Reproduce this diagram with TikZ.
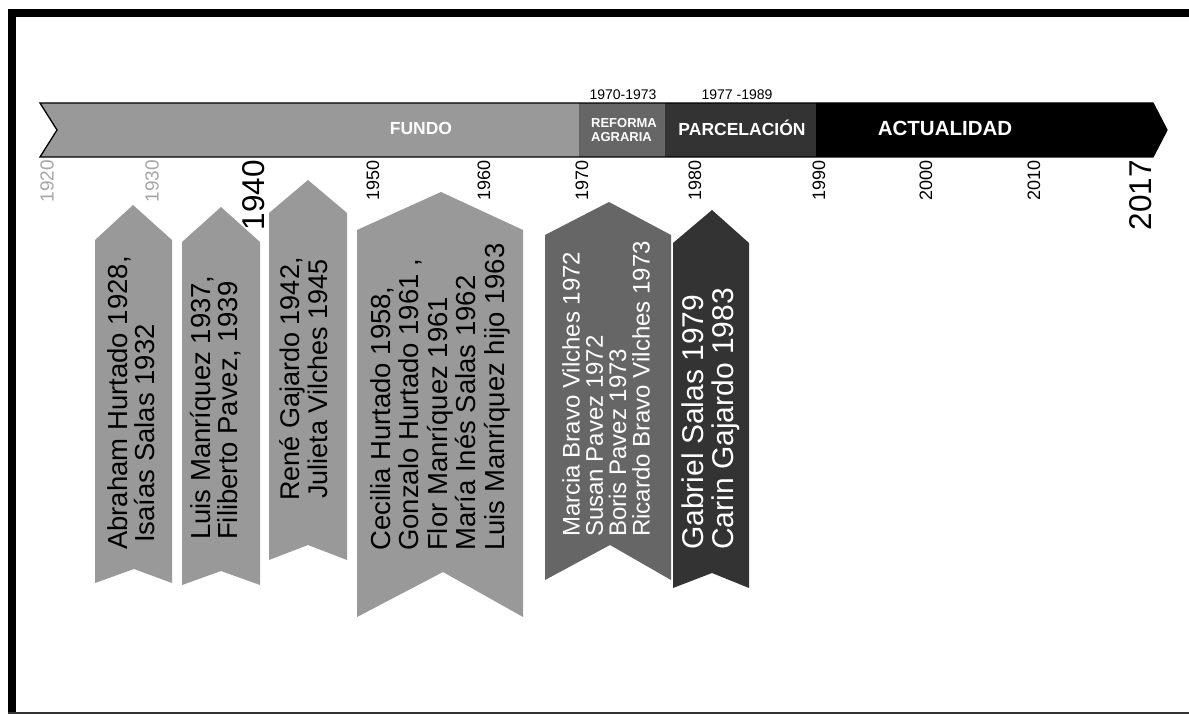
\documentclass[tikz,border=0pt]{standalone}
\usepackage{fontspec}
\setmainfont{Liberation Sans}
\definecolor{cFundo}{HTML}{999999}
\definecolor{cRef}{HTML}{666666}
\definecolor{cPar}{HTML}{333333}
\definecolor{cYrGray}{HTML}{A6A6A6}
\newcommand\myfs[2]{\fontsize{#1pt}{#2pt}\selectfont}
\begin{document}
\begin{tikzpicture}[x=1pt,y=-1pt,
  yr/.style={rotate=90, anchor=east, inner sep=0pt, font=\myfs{18}{18}},
  bigyr/.style={yr, font=\myfs{31.5}{31.5}},
  bt/.style={rotate=90, inner sep=0pt, align=left, anchor=west},
  seglabel/.style={text=white, inner sep=0pt, font=\bfseries\myfs{17.5}{17.5}},
  toplabel/.style={inner sep=0pt, font=\myfs{14}{14}}]
\useasboundingbox (0,0) rectangle (1189,714);
\fill[white] (0,0) rectangle (1189,714);
% frame
\fill[black] (8,9) rectangle (1189,17);
\fill[black] (8,9) rectangle (16,714);
\draw[line width=1.5pt, cPar] (8,713) -- (1189,713);
% timeline bar
\fill[cFundo] (40,103) -- (579,103) -- (579,157) -- (40,157) -- (57,130) -- cycle;
\fill[cRef] (579,103) rectangle (665,157);
\fill[cPar] (665,103) rectangle (816,157);
\fill[black] (816,103) -- (1153,103) -- (1167,130) -- (1153,157) -- (816,157) -- cycle;
\draw[line width=1.3pt, line join=miter] (40,103) -- (1153,103) -- (1167,130) -- (1153,157) -- (40,157) -- (57,130) -- cycle;
\node[seglabel] (fundo) at (421,128) {FUNDO};
\node[seglabel, align=left, font=\bfseries\myfs{13}{13.5}] (reforma) at (624,130) {REFORMA\\AGRARIA};
\node[seglabel] (parcel) at (742,128) {PARCELACIÓN};
\node[seglabel, font=\bfseries\myfs{20.5}{20.5}] (actual) at (945,128) {ACTUALIDAD};
\node[toplabel] (p1) at (623,95) {1970-1973};
\node[toplabel] (p2) at (737,95) {1977 -1989};
% banners
\fill[cFundo] (95,240) -- (133,205) -- (172,240) -- (172,583) -- (134,569) -- (95,583) -- cycle;
\fill[cFundo] (182,242) -- (221,207) -- (260,242) -- (260,585) -- (221,571) -- (182,585) -- cycle;
\fill[cFundo] (269,213) -- (308,180) -- (347,213) -- (347,560) -- (308,545) -- (269,560) -- cycle;
\fill[cFundo] (357,230) -- (441,192) -- (523,230) -- (523,617) -- (443,572) -- (357,617) -- cycle;
\fill[cRef] (545,235) -- (609,202) -- (671,235) -- (671,580) -- (610,545) -- (545,580) -- cycle;
\fill[cPar] (673,243) -- (712,210) -- (749,243) -- (749,588) -- (712,573) -- (673,588) -- cycle;
% banner texts
\node[bt, font=\myfs{27.5}{26.7}] (t1) at (131,550) {Abraham Hurtado 1928,\\\hspace*{7pt}Isaías Salas 1932};
\node[bt, font=\myfs{27.5}{27}] (t2) at (216,540) {Luis Manríquez 1937,\\Filiberto Pavez, 1939};
\node[rotate=90, inner sep=0pt, align=center, font=\myfs{27}{28}] (t3) at (304,379) {René Gajardo 1942,\\Julieta Vilches 1945};
\node[bt, font=\myfs{27.5}{28.5}] (t4) at (440,551) {Cecilia Hurtado 1958,\\Gonzalo Hurtado 1961 ,\\Flor Manríquez 1961\\María Inés Salas 1962\\Luis Manríquez hijo 1963};
\node[bt, text=white, font=\myfs{24}{23.3}] (t5) at (606,537) {Marcia Bravo Vilches 1972\\Susan Pavez 1972\\Boris Pavez 1973\\Ricardo Bravo Vilches 1973};
\node[bt, text=white, font=\myfs{30}{30}] (t6) at (711,550) {Gabriel Salas 1979\\Carin Gajardo 1983};
% year labels
\node[yr, text=cYrGray, font=\myfs{19}{19}] (y1920) at (47,160) {1920};
\node[yr, text=cYrGray, font=\myfs{19}{19}] (y1930) at (152,160) {1930};
\node[bigyr] (y1940) at (254,160) {1940};
\node[yr] (y1950) at (373,160) {1950};
\node[yr] (y1960) at (484,160) {1960};
\node[yr] (y1970) at (582,160) {1970};
\node[yr] (y1980) at (695,160) {1980};
\node[yr] (y1990) at (819,160) {1990};
\node[yr] (y2000) at (926,160) {2000};
\node[yr] (y2010) at (1034,160) {2010};
\node[bigyr] (y2017) at (1141,160) {2017};
\end{tikzpicture}
\end{document}
